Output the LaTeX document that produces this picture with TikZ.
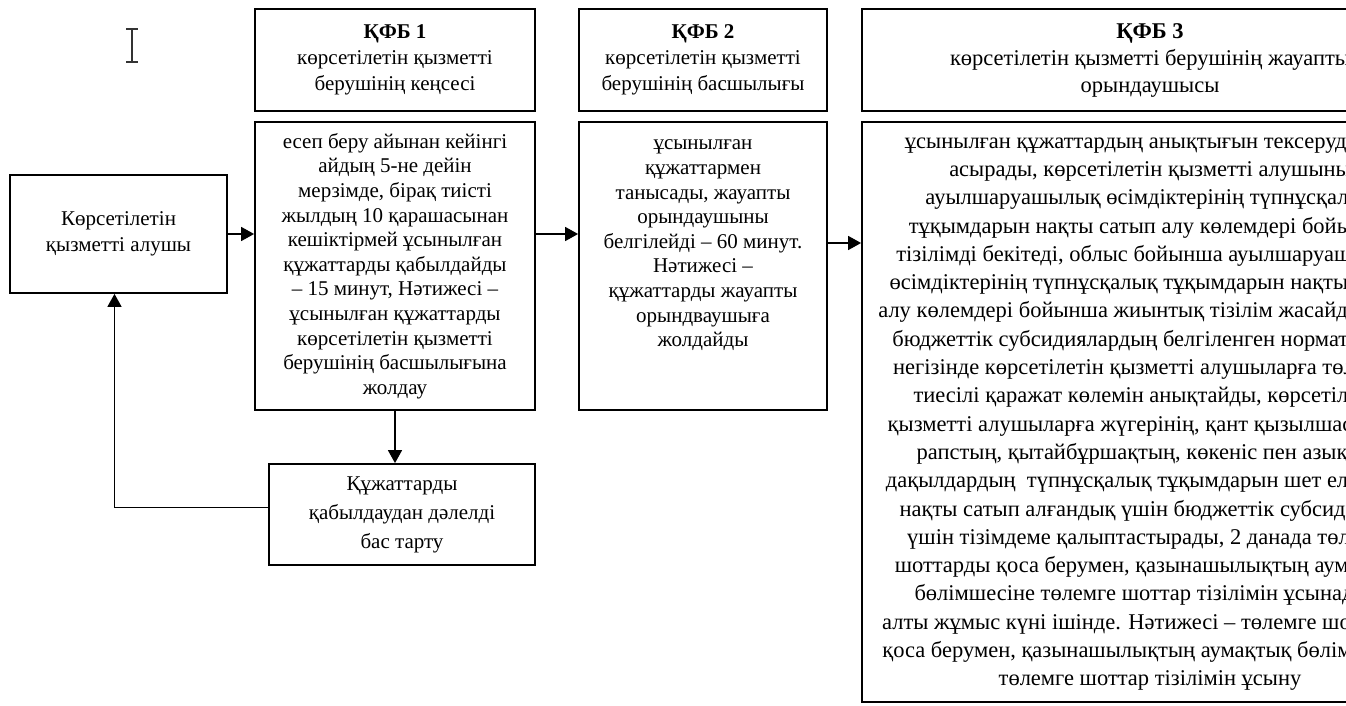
\documentclass[tikz,border=0pt]{standalone}
\usepackage{fontspec}
\setmainfont{Liberation Serif}
\usetikzlibrary{arrows.meta}

\begin{document}
\begin{tikzpicture}[x=1pt,y=-1pt]
\tikzstyle{every node}+=[inner sep=0pt]
\tikzstyle{box}=[draw=black,line width=1.8pt,align=center,font=\fontsize{21}{24.6}\selectfont]
\tikzstyle{arr}=[black,line width=1.6pt,-{Triangle[length=13pt,width=14pt]}]
\useasboundingbox (0,0) rectangle (1346,706);
\clip (0,0) rectangle (1346,706);
\draw [black!80,line width=1.3pt] (132,29) -- (132,62) (126,29) -- (138,29) (126,62) -- (138,62);
\node [box,font=\fontsize{21}{26}\selectfont,minimum width=280pt,minimum height=102pt] (hdr1) at (395,60) {\textbf{ҚФБ 1}\\көрсетілетін қызметті\\берушінің кеңсесі};
\node [box,font=\fontsize{21}{26}\selectfont,minimum width=248pt,minimum height=102pt] (hdr2) at (703,60) {\textbf{ҚФБ 2}\\көрсетілетін қызметті\\берушінің басшылығы};
\node [box,font=\fontsize{22.5}{27}\selectfont,minimum width=576pt,minimum height=102pt] (hdr3) at (1150,60) {\textbf{ҚФБ 3}\\көрсетілетін қызметті берушінің жауапты\\орындаушысы};
\node [box,minimum width=217pt,minimum height=118pt,font=\fontsize{21}{26}\selectfont] (client) at (118.5,234) {Көрсетілетін\\қызметті алушы};
\node [box,minimum width=280pt,minimum height=288pt] (step1) at (395,266) {есеп беру айынан кейінгі\\айдың 5-не дейін\\мерзімде, бірақ тиісті\\жылдың 10 қарашасынан\\кешіктірмей ұсынылған\\құжаттарды қабылдайды\\– 15 минут, Нәтижесі –\\ұсынылған құжаттарды\\көрсетілетін қызметті\\берушінің басшылығына\\жолдау};
\node [box,minimum width=248pt,minimum height=288pt] (step2) at (703,266) {\parbox[c][288pt][t]{248pt}{\centering\vspace*{18pt}ұсынылған\\құжаттармен\\танысады, жауапты\\орындаушыны\\белгілейді – 60 минут.\\Нәтижесі –\\құжаттарды жауапты\\орындваушыға\\жолдайды}};
\node [box,minimum width=576pt,minimum height=580pt,font=\fontsize{22.5}{28.3}\selectfont] (step3) at (1150,412) {ұсынылған құжаттардың анықтығын тексеруді іске\\асырады, көрсетілетін қызметті алушыны\\ауылшаруашылық өсімдіктерінің түпнұсқалық\\тұқымдарын нақты сатып алу көлемдері бойынша\\тізілімді бекітеді, облыс бойынша ауылшаруашылық\\өсімдіктерінің түпнұсқалық тұқымдарын нақты сатып\\алу көлемдері бойынша жиынтық тізілім жасайды, және\\бюджеттік субсидиялардың белгіленген нормативтері\\негізінде көрсетілетін қызметті алушыларға төленуге\\тиесілі қаражат көлемін анықтайды, көрсетілетін\\қызметті алушыларға жүгерінің, қант қызылшасының,\\рапстың, қытайбұршақтың, көкеніс пен азықтық\\дақылдардың\ \ түпнұсқалық тұқымдарын шет елдерден\\нақты сатып алғандық үшін бюджеттік субсидиялар\\үшін тізімдеме қалыптастырады, 2 данада төлемге\\шоттарды қоса берумен, қазынашылықтың аумақтық\\бөлімшесіне төлемге шоттар тізілімін ұсынады –\\алты жұмыс күні ішінде. Нәтижесі – төлемге шоттарды\\қоса берумен, қазынашылықтың аумақтық бөлімшесіне\\төлемге шоттар тізілімін ұсыну};
\node [box,minimum width=266pt,minimum height=101pt,font=\fontsize{21}{29}\selectfont] (refuse) at (402,514.5) {Құжаттарды\\қабылдаудан дәлелді\\бас тарту};
\draw [arr] (client.east) -- (client.east -| step1.west);
\draw [arr] (client.east -| step1.east) -- (client.east -| step2.west);
\draw [arr] ([yshift=23pt]step2.east) -- ([yshift=23pt]step2.east -| step3.west);
\draw [arr] (step1.south) -- (step1.south |- refuse.north);
\draw [arr] ([yshift=7pt]refuse.west) -| ([xshift=-4pt]client.south);
\end{tikzpicture}
\end{document}
